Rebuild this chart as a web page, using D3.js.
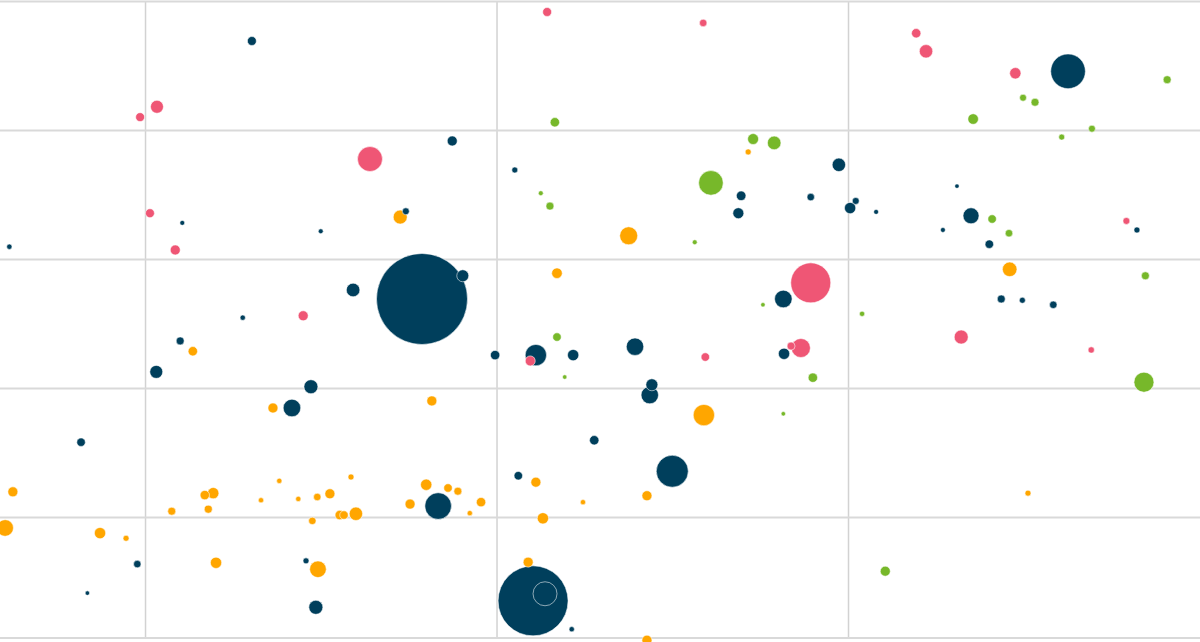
<!DOCTYPE html>
<html>
<head>
<meta charset="utf-8">
<script src="https://cdn.jsdelivr.net/npm/d3@7"></script>
<style>
  html, body { margin: 0; padding: 0; background: #fff; overflow: hidden; }
  svg { display: block; }
</style>
</head>
<body>
<svg id="chart" width="1200" height="642"></svg>
<script>
// ---- Data ----
const seriesNames = ["Navy", "Pink", "Green", "Orange"];

const navyX = [65.2, 93.7, 102.6, 134.8, 134.4, 87.1, 181.3, 148.7, 144.7, 151.1, 150.3, 154.0, 165.5, 167.5, 163.5, 191.1, 170.1, 171.8, 174.8, 179.2, 55.3, 75.0, 30.7, 79.6, 89.4, 95.2, 63.9, 55.0, 51.6, 73.6, 70.9, 140.8, 119.7, 99.8, 105.6, 110.9, 140.9, 122.1, 121.8, 40.9, 48.9, 72.9, 41.8, 74.3, 113.9, 125.0, 103.1, 91.7, 105.2, 106.9, 110.7];
const navyY = [93.8, 78.3, 73.8, 69.8, 67.1, 67.4, 89.1, 74.6, 69.6, 69.0, 67.9, 67.3, 71.3, 66.7, 64.5, 64.5, 62.3, 53.8, 53.6, 52.9, 65.6, 64.3, 61.9, 55.2, 53.8, 57.4, 50.9, 47.3, 42.5, 40.2, 36.9, 53.8, 46.4, 45.1, 45.1, 45.1, 45.3, 40.5, 38.9, 31.6, 12.7, 13.2, 8.2, 6.0, 31.9, 27.1, 26.4, 21.7, 7.0, 8.1, 2.6];
const navySize = [20, 25, 9, 23, 30, 12, 300, 45, 14, 12, 32, 6, 5, 64, 6, 9, 18, 16, 9, 14, 6, 6, 7, 46, 2070, 36, 7, 16, 42, 49, 77, 77, 76, 22, 114, 32, 32, 36, 76, 18, 14, 9, 5, 49, 22, 256, 18, 177, 1225, 144, 7];

const pinkX = [51.7, 49.3, 82.0, 50.7, 107.2, 129.4, 159.7, 161.1, 173.8, 54.3, 72.5, 144.7, 104.8, 129.7, 141.9, 143.3, 189.6, 166.1, 184.6];
const pinkY = [83.6, 82.0, 75.5, 67.1, 98.3, 96.6, 95.0, 92.2, 88.8, 61.4, 51.2, 56.3, 44.2, 44.8, 46.5, 46.2, 65.9, 47.9, 45.9];
const pinkSize = [42, 20, 156, 20, 20, 14, 22, 45, 32, 25, 25, 400, 25, 18, 16, 90, 12, 49, 10];

const greenX = [108.3, 136.5, 139.5, 130.5, 106.3, 107.6, 195.4, 174.9, 176.6, 167.8, 184.7, 180.4, 170.5, 172.9, 128.2, 137.9, 108.6, 109.7, 140.8, 192.3, 152.0, 145.0, 192.1, 155.3];
const greenY = [81.2, 78.6, 78.0, 71.8, 70.2, 68.2, 87.8, 85.0, 84.3, 81.7, 80.2, 78.9, 66.2, 64.0, 62.6, 52.9, 47.9, 41.7, 36.0, 57.4, 51.5, 41.6, 40.9, 11.6];
const greenSize = [22, 30, 46, 151, 6, 16, 16, 12, 16, 28, 12, 9, 18, 14, 6, 5, 18, 5, 5, 16, 7, 22, 100, 25];

const orangeX = [135.8, 86.3, 118.8, 108.6, 56.8, 68.2, 90.8, 129.5, 173.0, 31.2, 58.5, 59.7, 69.1, 79.3, 66.5, 71.8, 74.5, 76.3, 53.8, 59.0, 77.7, 78.3, 80.0, 73.8, 30.1, 43.6, 47.3, 60.1, 74.6, 105.6, 90.0, 93.1, 94.5, 87.7, 97.8, 96.2, 112.3, 121.4, 106.6, 104.5, 121.4, 175.6];
const orangeY = [76.6, 66.5, 63.6, 57.8, 45.7, 36.9, 38.0, 35.8, 58.4, 23.9, 23.4, 23.7, 25.6, 26.2, 22.6, 22.8, 23.1, 23.6, 20.9, 21.2, 20.3, 20.3, 20.5, 19.4, 18.3, 17.5, 16.7, 12.9, 11.9, 25.4, 25.0, 24.5, 24.0, 22.0, 22.3, 20.6, 22.3, 23.3, 19.8, 13.0, 0.9, 23.7];
const orangeSize = [9, 49, 81, 28, 22, 25, 25, 114, 53, 25, 22, 32, 7, 9, 7, 7, 14, 25, 16, 16, 22, 18, 45, 14, 69, 32, 9, 32, 69, 25, 32, 18, 16, 25, 22, 7, 7, 25, 32, 25, 25, 9];

const xTicks = [50, 100, 150];
const yTicks = [20, 40, 60, 80, 100];

// ---- Layout / style ----
const W = 1200, H = 642;
const colors = ["#003f5c", "#ef5675", "#77b82a", "#ffa600"];

const svg = d3.select("#chart");

const x = d3.scaleLinear().domain([29.37, 200]).range([0, 1199.5]);
const y = d3.scaleLinear().domain([1.24, 100]).range([638, 1]);
const r = d3.scaleSqrt().domain([0, 100]).range([0, 10]);

// gridlines via axes
const gx = svg.append("g")
  .attr("transform", `translate(0,${y(1.24)})`)
  .call(d3.axisBottom(x).tickValues(xTicks).tickSize(-(y(1.24) - y(100))).tickFormat(""));
gx.select(".domain").remove();
gx.selectAll(".tick line").attr("stroke", "#d2d2d2").attr("stroke-width", 1.5);

const gy = svg.append("g")
  .call(d3.axisLeft(y).tickValues(yTicks).tickSize(-W).tickFormat(""));
gy.select(".domain").remove();
gy.selectAll(".tick line").attr("stroke", "#d9d9d9").attr("stroke-width", 2);

// bottom baseline
svg.append("line")
  .attr("x1", 0).attr("x2", W)
  .attr("y1", y(1.24)).attr("y2", y(1.24))
  .attr("stroke", "#d9d9d9").attr("stroke-width", 2);

// build point table
const seriesData = [
  [navyX, navyY, navySize],
  [pinkX, pinkY, pinkSize],
  [greenX, greenY, greenSize],
  [orangeX, orangeY, orangeSize]
];
const points = [];
seriesData.forEach((s, si) => {
  s[0].forEach((xv, i) => points.push({ s: si, x: xv, y: s[1][i], v: s[2][i] }));
});
points.sort((a, b) => b.v - a.v);

svg.append("g").selectAll("circle")
  .data(points)
  .join("circle")
  .attr("cx", d => x(d.x))
  .attr("cy", d => y(d.y))
  .attr("r", d => r(d.v))
  .attr("fill", d => colors[d.s])
  .attr("stroke", "#ffffff")
  .attr("stroke-opacity", 0.55)
  .attr("stroke-width", 1);
</script>
</body>
</html>
